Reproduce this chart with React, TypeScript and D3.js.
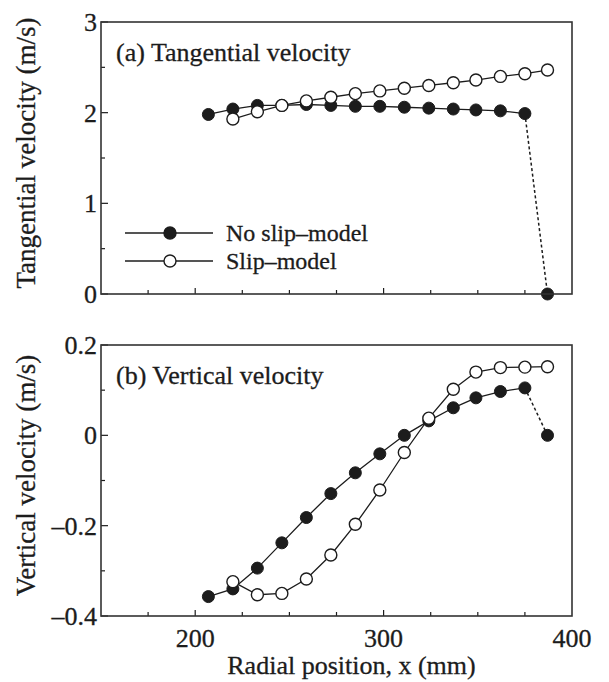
import * as d3 from 'd3';

// radial positions (mm)
const radialX = [207, 220, 233, 246, 259, 272, 285, 298, 311, 324, 337, 349, 362, 375, 387];
const slipX = [220, 233, 246, 259, 272, 285, 298, 311, 324, 337, 349, 362, 375, 387];

// (a) tangential velocity (m/s)
const tangNoSlip = [1.98, 2.04, 2.08, 2.08, 2.09, 2.08, 2.07, 2.07, 2.06, 2.05, 2.04, 2.03, 2.02, 1.99, 0];
const tangSlip = [1.93, 2.01, 2.08, 2.13, 2.17, 2.21, 2.24, 2.27, 2.30, 2.33, 2.36, 2.40, 2.43, 2.47];

// (b) vertical velocity (m/s)
const vertNoSlip = [-0.357, -0.34, -0.294, -0.238, -0.182, -0.129, -0.083, -0.041, 0.0, 0.032, 0.061, 0.083, 0.097, 0.105, 0];
const vertSlip = [-0.324, -0.353, -0.35, -0.318, -0.265, -0.197, -0.121, -0.038, 0.038, 0.102, 0.14, 0.15, 0.151, 0.152];

const xTickLabels = [200, 300, 400];
const tangTickLabels = [0, 1, 2, 3];
const vertTickLabels = [-0.4, -0.2, 0, 0.2];

const legendLabels = ['No slip\u2013model', 'Slip\u2013model'];

const W = 609;
const H = 682;
const left = 101;
const right = 572;
const FONT = '"Liberation Serif", "Times New Roman", serif';
const INK = '#1c1c1c';

const x = d3.scaleLinear().domain([150, 400]).range([left, right]);

type PanelProps = {
  top: number;
  bottom: number;
  domain: [number, number];
  majors: number[];
  minorStep: number;
  fmt: (v: number) => string;
  title: string;
  yTitle: string;
  filled: number[];
  open: number[];
  legend?: boolean;
  xLabels?: boolean;
};

const textStyle = { fontFamily: FONT, fill: INK, stroke: INK, strokeWidth: 0.3 };

function Panel(p: PanelProps) {
  const y = d3.scaleLinear().domain(p.domain).range([p.bottom, p.top]);
  const n = Math.round((p.domain[1] - p.domain[0]) / p.minorStep);
  const yMinor = d3.range(n + 1).map(i => p.domain[0] + i * p.minorStep);
  const xMinor = d3.range(175, 400, 25);
  const line = d3.line<[number, number]>().x(d => x(d[0])).y(d => y(d[1]));
  const solidPts: [number, number][] = radialX.slice(0, 14).map((v, i) => [v, p.filled[i]]);
  const dashPts: [number, number][] = [[radialX[13], p.filled[13]], [radialX[14], p.filled[14]]];
  const openPts: [number, number][] = slipX.map((v, i) => [v, p.open[i]]);
  const r = 6;
  const mid = (p.top + p.bottom) / 2;
  const isMajorY = (t: number) => p.majors.some(m => Math.abs(m - t) < 1e-6);

  return (
    <g>
      <path d={line(openPts) ?? ''} fill="none" stroke={INK} strokeWidth={1.3} />
      <path d={line(solidPts) ?? ''} fill="none" stroke={INK} strokeWidth={1.3} />
      <path d={line(dashPts) ?? ''} fill="none" stroke={INK} strokeWidth={1.5} strokeDasharray="3,2.5" />
      {radialX.map((v, i) => (
        <circle key={'f' + i} cx={x(v)} cy={y(p.filled[i])} r={r} fill={INK} stroke={INK} strokeWidth={1} />
      ))}
      {slipX.map((v, i) => (
        <circle key={'o' + i} cx={x(v)} cy={y(p.open[i])} r={r} fill="#fff" stroke={INK} strokeWidth={1.4} />
      ))}

      {/* ticks, inward */}
      {xMinor.map(t => (
        <line key={'xt' + t} x1={x(t)} x2={x(t)} y1={p.bottom} y2={p.bottom - (t % 100 === 0 ? 6 : 4)} stroke={INK} strokeWidth={1.2} />
      ))}
      {yMinor.map((t, i) => (
        <line key={'yt' + i} x1={left} x2={left + (isMajorY(t) ? 7 : 4)} y1={y(t)} y2={y(t)} stroke={INK} strokeWidth={1.2} />
      ))}
      <rect x={left} y={p.top} width={right - left} height={p.bottom - p.top} fill="none" stroke="#333" strokeWidth={1.6} />

      {p.majors.map(t => (
        <text key={'yl' + t} x={left - 4} y={y(t)} dy="0.35em" textAnchor="end" fontSize={26} style={textStyle}>
          {p.fmt(t)}
        </text>
      ))}
      {p.xLabels && xTickLabels.map(t => (
        <text key={'xl' + t} x={x(t)} y={p.bottom + 31} textAnchor="middle" fontSize={26} style={textStyle}>
          {t}
        </text>
      ))}

      <text x={116} y={p.top + 39} fontSize={26} style={textStyle}>{p.title}</text>
      <text transform={`translate(35,${mid - 5}) rotate(-90)`} textAnchor="middle" fontSize={27} style={textStyle}>
        {p.yTitle}
      </text>

      {p.legend && (
        <g>
          {legendLabels.map((lab, i) => {
            const ly = 233 + i * 28;
            return (
              <g key={lab}>
                <line x1={125} x2={213} y1={ly} y2={ly} stroke={INK} strokeWidth={1.3} />
                <circle cx={170} cy={ly} r={r} fill={i === 0 ? INK : '#fff'} stroke={INK} strokeWidth={1.4} />
                <text x={226} y={ly} dy="0.35em" fontSize={24} style={textStyle}>{lab}</text>
              </g>
            );
          })}
        </g>
      )}
    </g>
  );
}

const fmtMinus = (v: number) => (v < 0 ? '\u2013' + Math.abs(v) : String(v));

export default function App() {
  return (
    <svg width={W} height={H} style={{ position: 'absolute', left: 0, top: 0, background: '#fff' }}>
      <Panel
        top={22}
        bottom={294}
        domain={[0, 3]}
        majors={tangTickLabels}
        minorStep={0.5}
        fmt={v => String(v)}
        title="(a) Tangential velocity"
        yTitle="Tangential velocity (m/s)"
        filled={tangNoSlip}
        open={tangSlip}
        legend
      />
      <Panel
        top={345}
        bottom={616}
        domain={[-0.4, 0.2]}
        majors={vertTickLabels}
        minorStep={0.1}
        fmt={fmtMinus}
        title="(b) Vertical velocity"
        yTitle="Vertical velocity (m/s)"
        filled={vertNoSlip}
        open={vertSlip}
        xLabels
      />
      <text x={(left + right) / 2 + 15} y={674} textAnchor="middle" fontSize={26} style={textStyle}>
        Radial position, x (mm)
      </text>
    </svg>
  );
}
